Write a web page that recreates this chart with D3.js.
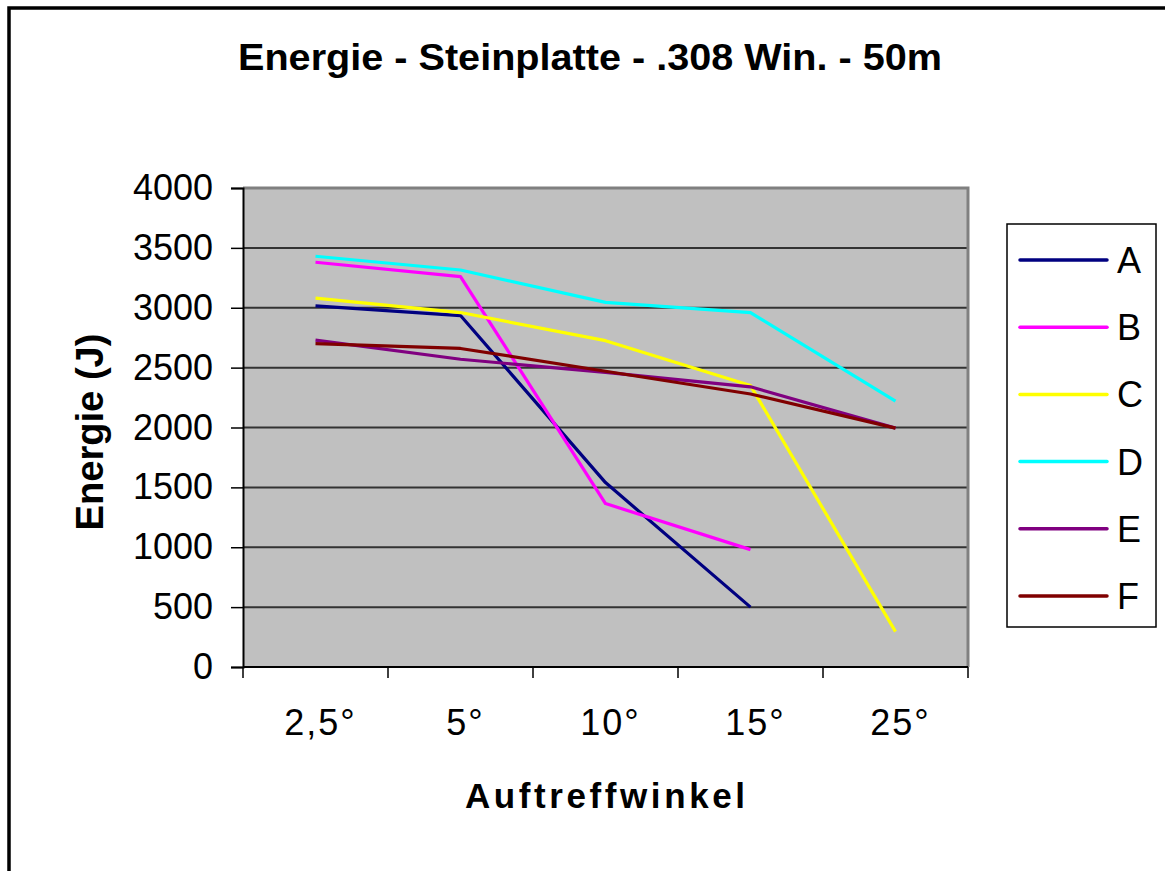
<!DOCTYPE html>
<html>
<head>
<meta charset="utf-8">
<script src="https://cdn.jsdelivr.net/npm/d3@7"></script>
<style>
  html, body { margin: 0; padding: 0; background: #fff; }
  svg { display: block; }
  text { font-family: "Liberation Sans", Arial, sans-serif; fill: #000; }
</style>
</head>
<body>
<svg id="chart" width="1165" height="871"></svg>
<script>
// ---- data ----
const categories = ["2,5°", "5°", "10°", "15°", "25°"];
const seriesNames = ["A", "B", "C", "D", "E", "F"];
const seriesA = [3015, 2935, 1540, 500, null];
const seriesB = [3380, 3260, 1365, 980, null];
const seriesC = [3080, 2960, 2725, 2350, 295];
const seriesD = [3430, 3315, 3045, 2960, 2220];
const seriesE = [2730, 2570, 2460, 2340, 1995];
const seriesF = [2700, 2660, 2470, 2280, 1995];
const seriesColors = ["#000080", "#FF00FF", "#FFFF00", "#00FFFF", "#800080", "#800000"];
const yTicks = [0, 500, 1000, 1500, 2000, 2500, 3000, 3500, 4000];
const titleText = "Energie - Steinplatte - .308 Win. - 50m";
const yTitle = "Energie (J)";
const xTitle = "Auftreffwinkel";

const seriesValues = [seriesA, seriesB, seriesC, seriesD, seriesE, seriesF];

// ---- layout ----
const svg = d3.select("#chart");
const plot = { left: 243, right: 968, top: 188, bottom: 667 };

const x = d3.scaleBand().domain(categories).range([plot.left, plot.right]).padding(0);
const y = d3.scaleLinear().domain([0, 4000]).range([plot.bottom, plot.top]);

// outer border
svg.append("rect")
  .attr("x", 9).attr("y", 8).attr("width", 1200).attr("height", 900)
  .attr("fill", "none").attr("stroke", "#000").attr("stroke-width", 3.5);

// plot background
svg.append("rect")
  .attr("x", plot.left).attr("y", plot.top)
  .attr("width", plot.right - plot.left).attr("height", plot.bottom - plot.top)
  .attr("fill", "#C0C0C0");

// gridlines
svg.append("g").selectAll("line")
  .data(yTicks.filter(d => d > 0 && d < 4000))
  .join("line")
  .attr("x1", plot.left).attr("x2", plot.right)
  .attr("y1", d => y(d)).attr("y2", d => y(d))
  .attr("stroke", "#333").attr("stroke-width", 2);

// plot border top/right (gray)
svg.append("path")
  .attr("d", `M${plot.left},${plot.top}H${plot.right}V${plot.bottom}`)
  .attr("fill", "none").attr("stroke", "#808080").attr("stroke-width", 3);

// y axis
const yAxis = d3.axisLeft(y).tickValues(yTicks).tickSize(12).tickPadding(18).tickFormat(d3.format("d"));
const gy = svg.append("g").attr("transform", `translate(${plot.left},0)`).call(yAxis);
gy.select(".domain").attr("stroke", "#000").attr("stroke-width", 2);
gy.selectAll(".tick line").attr("stroke", "#000").attr("stroke-width", 1.5);
gy.selectAll(".tick text").attr("font-size", 36).attr("font-family", "Liberation Sans, Arial, sans-serif").attr("fill", "#000");

// x axis: ticks at band boundaries
const boundaries = categories.map(c => x(c)).concat([plot.right]);
const gx = svg.append("g");
gx.append("line")
  .attr("x1", plot.left).attr("x2", plot.right)
  .attr("y1", plot.bottom).attr("y2", plot.bottom)
  .attr("stroke", "#000").attr("stroke-width", 2);
gx.selectAll("line.tk").data(boundaries).join("line")
  .attr("class", "tk")
  .attr("x1", d => d).attr("x2", d => d)
  .attr("y1", plot.bottom).attr("y2", plot.bottom + 11)
  .attr("stroke", "#000").attr("stroke-width", 1.5);
gx.selectAll("text").data(categories).join("text")
  .attr("x", d => x(d) + x.bandwidth() / 2 + 5)
  .attr("y", 735)
  .attr("text-anchor", "middle")
  .attr("font-size", 36)
  .attr("letter-spacing", 2)
  .text(d => d);

// lines
const line = d3.line()
  .defined(d => d.v != null)
  .x(d => x(d.c) + x.bandwidth() / 2)
  .y(d => y(d.v));

seriesValues.forEach((vals, i) => {
  const pts = categories.map((c, j) => ({ c, v: vals[j] }));
  svg.append("path")
    .datum(pts)
    .attr("d", line)
    .attr("fill", "none")
    .attr("stroke", seriesColors[i])
    .attr("stroke-width", 3.2)
    .attr("stroke-linejoin", "round");
});

// title
svg.append("text")
  .attr("x", 590).attr("y", 70)
  .attr("text-anchor", "middle")
  .attr("font-size", 37).attr("font-weight", "bold")
  .attr("textLength", 704).attr("lengthAdjust", "spacingAndGlyphs")
  .text(titleText);

// y title
svg.append("text")
  .attr("transform", "translate(103,432) rotate(-90)")
  .attr("text-anchor", "middle")
  .attr("font-size", 38).attr("font-weight", "bold")
  .attr("textLength", 197).attr("lengthAdjust", "spacingAndGlyphs")
  .text(yTitle);

// x title
svg.append("text")
  .attr("x", 605).attr("y", 808)
  .attr("text-anchor", "middle")
  .attr("font-size", 35).attr("font-weight", "bold")
  .attr("textLength", 280).attr("lengthAdjust", "spacing")
  .text(xTitle);

// legend
const legend = svg.append("g");
legend.append("rect")
  .attr("x", 1007).attr("y", 224).attr("width", 149).attr("height", 403)
  .attr("fill", "#fff").attr("stroke", "#000").attr("stroke-width", 1.5);
const legY = d3.scalePoint().domain(seriesNames).range([260, 596]);
const items = legend.selectAll("g.item").data(seriesNames).join("g").attr("class", "item");
items.append("line")
  .attr("x1", 1020).attr("x2", 1107)
  .attr("y1", d => legY(d)).attr("y2", d => legY(d))
  .attr("stroke", (d, i) => seriesColors[i]).attr("stroke-width", 3.5)
  .attr("stroke-linecap", "round");
items.append("text")
  .attr("x", 1117).attr("y", d => legY(d) + 13)
  .attr("font-size", 36)
  .text(d => d);
</script>
</body>
</html>
